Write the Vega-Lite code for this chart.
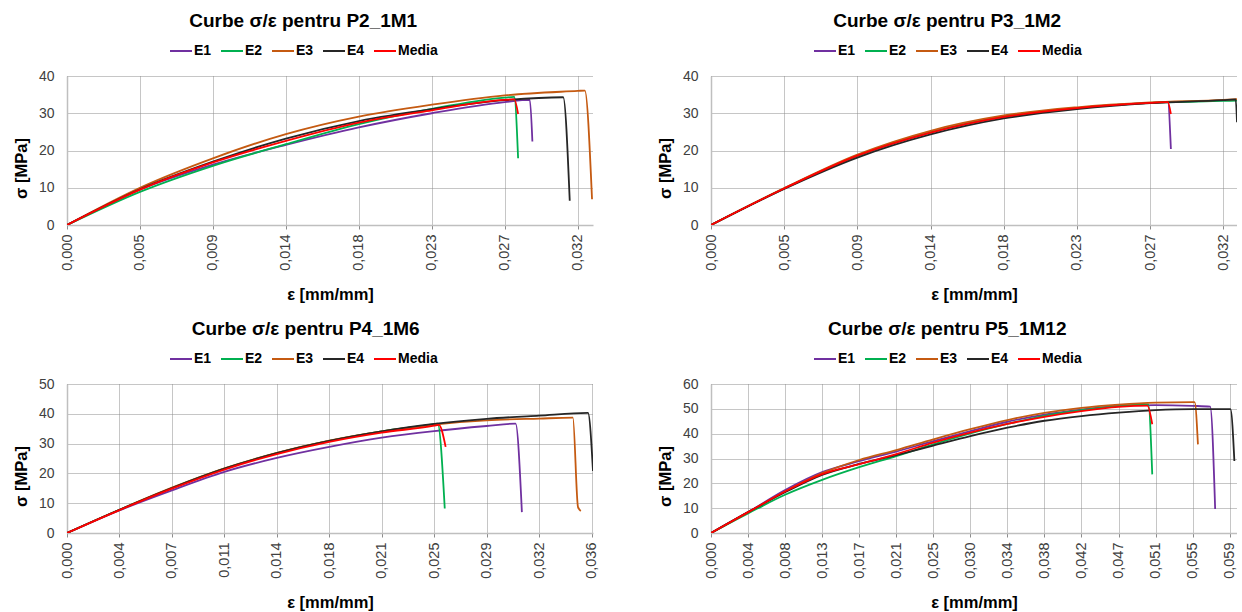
{
  "$schema": "https://vega.github.io/schema/vega-lite/v6.json",
  "padding": {"left": 13, "top": 12, "right": 0, "bottom": 0},
  "background": "white",
  "data": {"values": [
    {"p":"A","s":"E1","e":0,"v":0},{"p":"A","s":"E1","e":0.00455,"v":9.5},{"p":"A","s":"E1","e":0.0091,"v":16.2},{"p":"A","s":"E1","e":0.01365,"v":21.5},{"p":"A","s":"E1","e":0.0182,"v":26.2},{"p":"A","s":"E1","e":0.02275,"v":30.0},{"p":"A","s":"E1","e":0.0273,"v":33.0},{"p":"A","s":"E1","e":0.02886,"v":33.6},{"p":"A","s":"E1","e":0.02902,"v":22.4},
    {"p":"A","s":"E2","e":0,"v":0},{"p":"A","s":"E2","e":0.00455,"v":8.9},{"p":"A","s":"E2","e":0.0091,"v":15.9},{"p":"A","s":"E2","e":0.01365,"v":21.7},{"p":"A","s":"E2","e":0.0182,"v":27.1},{"p":"A","s":"E2","e":0.02275,"v":31.2},{"p":"A","s":"E2","e":0.0273,"v":34.2},{"p":"A","s":"E2","e":0.02789,"v":34.4},{"p":"A","s":"E2","e":0.02813,"v":17.9},
    {"p":"A","s":"E3","e":0,"v":0},{"p":"A","s":"E3","e":0.00455,"v":10.0},{"p":"A","s":"E3","e":0.0091,"v":17.9},{"p":"A","s":"E3","e":0.01365,"v":24.4},{"p":"A","s":"E3","e":0.0182,"v":29.1},{"p":"A","s":"E3","e":0.02275,"v":32.3},{"p":"A","s":"E3","e":0.0273,"v":34.8},{"p":"A","s":"E3","e":0.03185,"v":36.0},{"p":"A","s":"E3","e":0.03229,"v":36.1},{"p":"A","s":"E3","e":0.03274,"v":6.9},
    {"p":"A","s":"E4","e":0,"v":0},{"p":"A","s":"E4","e":0.00455,"v":9.6},{"p":"A","s":"E4","e":0.0091,"v":17.0},{"p":"A","s":"E4","e":0.01365,"v":23.2},{"p":"A","s":"E4","e":0.0182,"v":27.9},{"p":"A","s":"E4","e":0.02275,"v":31.1},{"p":"A","s":"E4","e":0.0273,"v":33.5},{"p":"A","s":"E4","e":0.03094,"v":34.3},{"p":"A","s":"E4","e":0.03135,"v":6.5},
    {"p":"A","s":"Media","e":0,"v":0},{"p":"A","s":"Media","e":0.00455,"v":9.5},{"p":"A","s":"Media","e":0.0091,"v":16.8},{"p":"A","s":"Media","e":0.01365,"v":22.6},{"p":"A","s":"Media","e":0.0182,"v":27.5},{"p":"A","s":"Media","e":0.02275,"v":30.8},{"p":"A","s":"Media","e":0.0273,"v":33.6},{"p":"A","s":"Media","e":0.02789,"v":33.7},{"p":"A","s":"Media","e":0.02813,"v":29.8},

    {"p":"B","s":"E1","e":0,"v":0},{"p":"B","s":"E1","e":0.00455,"v":9.8},{"p":"B","s":"E1","e":0.0091,"v":18.6},{"p":"B","s":"E1","e":0.01365,"v":24.8},{"p":"B","s":"E1","e":0.0182,"v":29.0},{"p":"B","s":"E1","e":0.02275,"v":31.4},{"p":"B","s":"E1","e":0.0273,"v":32.8},{"p":"B","s":"E1","e":0.0284,"v":33.0},{"p":"B","s":"E1","e":0.02859,"v":20.4},
    {"p":"B","s":"E2","e":0,"v":0},{"p":"B","s":"E2","e":0.00455,"v":9.8},{"p":"B","s":"E2","e":0.0091,"v":18.5},{"p":"B","s":"E2","e":0.01365,"v":24.9},{"p":"B","s":"E2","e":0.0182,"v":29.1},{"p":"B","s":"E2","e":0.02275,"v":31.4},{"p":"B","s":"E2","e":0.0273,"v":32.8},{"p":"B","s":"E2","e":0.03185,"v":33.3},{"p":"B","s":"E2","e":0.0327,"v":33.4},
    {"p":"B","s":"E3","e":0,"v":0},{"p":"B","s":"E3","e":0.00455,"v":9.9},{"p":"B","s":"E3","e":0.0091,"v":18.9},{"p":"B","s":"E3","e":0.01365,"v":25.3},{"p":"B","s":"E3","e":0.0182,"v":29.4},{"p":"B","s":"E3","e":0.02275,"v":31.6},{"p":"B","s":"E3","e":0.0273,"v":32.9},{"p":"B","s":"E3","e":0.03185,"v":33.6},{"p":"B","s":"E3","e":0.0327,"v":33.8},
    {"p":"B","s":"E4","e":0,"v":0},{"p":"B","s":"E4","e":0.00455,"v":9.7},{"p":"B","s":"E4","e":0.0091,"v":18.1},{"p":"B","s":"E4","e":0.01365,"v":24.3},{"p":"B","s":"E4","e":0.0182,"v":28.6},{"p":"B","s":"E4","e":0.02275,"v":31.1},{"p":"B","s":"E4","e":0.0273,"v":32.7},{"p":"B","s":"E4","e":0.03185,"v":33.5},{"p":"B","s":"E4","e":0.03262,"v":33.7},{"p":"B","s":"E4","e":0.0327,"v":27.6},
    {"p":"B","s":"Media","e":0,"v":0},{"p":"B","s":"Media","e":0.00455,"v":9.8},{"p":"B","s":"Media","e":0.0091,"v":18.6},{"p":"B","s":"Media","e":0.01365,"v":24.8},{"p":"B","s":"Media","e":0.0182,"v":29.0},{"p":"B","s":"Media","e":0.02275,"v":31.4},{"p":"B","s":"Media","e":0.0273,"v":32.8},{"p":"B","s":"Media","e":0.0284,"v":33.0},{"p":"B","s":"Media","e":0.02859,"v":29.8},

    {"p":"C","s":"E1","e":0,"v":0},{"p":"C","s":"E1","e":0.00357,"v":7.6},{"p":"C","s":"E1","e":0.00714,"v":14.3},{"p":"C","s":"E1","e":0.01071,"v":20.5},{"p":"C","s":"E1","e":0.01428,"v":25.2},{"p":"C","s":"E1","e":0.01785,"v":28.9},{"p":"C","s":"E1","e":0.02142,"v":32.0},{"p":"C","s":"E1","e":0.02499,"v":34.2},{"p":"C","s":"E1","e":0.02856,"v":35.9},{"p":"C","s":"E1","e":0.03053,"v":36.7},{"p":"C","s":"E1","e":0.03096,"v":7.0},
    {"p":"C","s":"E2","e":0,"v":0},{"p":"C","s":"E2","e":0.00357,"v":7.8},{"p":"C","s":"E2","e":0.00714,"v":15.1},{"p":"C","s":"E2","e":0.01071,"v":21.6},{"p":"C","s":"E2","e":0.01428,"v":26.8},{"p":"C","s":"E2","e":0.01785,"v":30.9},{"p":"C","s":"E2","e":0.02142,"v":34.1},{"p":"C","s":"E2","e":0.02499,"v":36.5},{"p":"C","s":"E2","e":0.02523,"v":36.7},{"p":"C","s":"E2","e":0.02571,"v":8.2},
    {"p":"C","s":"E3","e":0,"v":0},{"p":"C","s":"E3","e":0.00357,"v":7.8},{"p":"C","s":"E3","e":0.00714,"v":15.2},{"p":"C","s":"E3","e":0.01071,"v":21.7},{"p":"C","s":"E3","e":0.01428,"v":26.9},{"p":"C","s":"E3","e":0.01785,"v":31.0},{"p":"C","s":"E3","e":0.02142,"v":34.1},{"p":"C","s":"E3","e":0.02499,"v":36.4},{"p":"C","s":"E3","e":0.02856,"v":37.8},{"p":"C","s":"E3","e":0.03213,"v":38.4},{"p":"C","s":"E3","e":0.03443,"v":38.7},{"p":"C","s":"E3","e":0.03478,"v":8.7},{"p":"C","s":"E3","e":0.03497,"v":7.4},
    {"p":"C","s":"E4","e":0,"v":0},{"p":"C","s":"E4","e":0.00357,"v":7.8},{"p":"C","s":"E4","e":0.00714,"v":15.1},{"p":"C","s":"E4","e":0.01071,"v":21.6},{"p":"C","s":"E4","e":0.01428,"v":26.8},{"p":"C","s":"E4","e":0.01785,"v":30.9},{"p":"C","s":"E4","e":0.02142,"v":34.1},{"p":"C","s":"E4","e":0.02499,"v":36.6},{"p":"C","s":"E4","e":0.02856,"v":38.3},{"p":"C","s":"E4","e":0.03213,"v":39.4},{"p":"C","s":"E4","e":0.03546,"v":40.3},{"p":"C","s":"E4","e":0.0358,"v":20.8},
    {"p":"C","s":"Media","e":0,"v":0},{"p":"C","s":"Media","e":0.00357,"v":7.7},{"p":"C","s":"Media","e":0.00714,"v":14.9},{"p":"C","s":"Media","e":0.01071,"v":21.3},{"p":"C","s":"Media","e":0.01428,"v":26.5},{"p":"C","s":"Media","e":0.01785,"v":30.6},{"p":"C","s":"Media","e":0.02142,"v":33.7},{"p":"C","s":"Media","e":0.02499,"v":36.0},{"p":"C","s":"Media","e":0.02531,"v":36.3},{"p":"C","s":"Media","e":0.02577,"v":28.9},

    {"p":"D","s":"E1","e":0,"v":0},{"p":"D","s":"E1","e":0.00424,"v":8.4},{"p":"D","s":"E1","e":0.00848,"v":17.3},{"p":"D","s":"E1","e":0.01272,"v":24.5},{"p":"D","s":"E1","e":0.01696,"v":28.9},{"p":"D","s":"E1","e":0.0212,"v":32.8},{"p":"D","s":"E1","e":0.02544,"v":37.0},{"p":"D","s":"E1","e":0.02968,"v":41.0},{"p":"D","s":"E1","e":0.03392,"v":44.8},{"p":"D","s":"E1","e":0.03816,"v":47.7},{"p":"D","s":"E1","e":0.0424,"v":49.7},{"p":"D","s":"E1","e":0.04664,"v":51.2},{"p":"D","s":"E1","e":0.05088,"v":51.5},{"p":"D","s":"E1","e":0.05512,"v":51.2},{"p":"D","s":"E1","e":0.05713,"v":50.9},{"p":"D","s":"E1","e":0.0577,"v":9.7},
    {"p":"D","s":"E2","e":0,"v":0},{"p":"D","s":"E2","e":0.00424,"v":7.9},{"p":"D","s":"E2","e":0.00848,"v":15.4},{"p":"D","s":"E2","e":0.01272,"v":21.4},{"p":"D","s":"E2","e":0.01696,"v":26.5},{"p":"D","s":"E2","e":0.0212,"v":31.0},{"p":"D","s":"E2","e":0.02544,"v":35.7},{"p":"D","s":"E2","e":0.02968,"v":40.1},{"p":"D","s":"E2","e":0.03392,"v":43.9},{"p":"D","s":"E2","e":0.03816,"v":47.2},{"p":"D","s":"E2","e":0.0424,"v":49.5},{"p":"D","s":"E2","e":0.04664,"v":51.1},{"p":"D","s":"E2","e":0.05005,"v":51.8},{"p":"D","s":"E2","e":0.0505,"v":23.6},
    {"p":"D","s":"E3","e":0,"v":0},{"p":"D","s":"E3","e":0.00424,"v":8.3},{"p":"D","s":"E3","e":0.00848,"v":16.7},{"p":"D","s":"E3","e":0.01272,"v":24.1},{"p":"D","s":"E3","e":0.01696,"v":29.4},{"p":"D","s":"E3","e":0.0212,"v":33.4},{"p":"D","s":"E3","e":0.02544,"v":37.7},{"p":"D","s":"E3","e":0.02968,"v":41.8},{"p":"D","s":"E3","e":0.03392,"v":45.5},{"p":"D","s":"E3","e":0.03816,"v":48.4},{"p":"D","s":"E3","e":0.0424,"v":50.4},{"p":"D","s":"E3","e":0.04664,"v":51.7},{"p":"D","s":"E3","e":0.05088,"v":52.5},{"p":"D","s":"E3","e":0.05512,"v":52.7},{"p":"D","s":"E3","e":0.05535,"v":52.7},{"p":"D","s":"E3","e":0.05573,"v":35.7},
    {"p":"D","s":"E4","e":0,"v":0},{"p":"D","s":"E4","e":0.00424,"v":8.4},{"p":"D","s":"E4","e":0.00848,"v":16.4},{"p":"D","s":"E4","e":0.01272,"v":23.4},{"p":"D","s":"E4","e":0.01696,"v":27.8},{"p":"D","s":"E4","e":0.0212,"v":31.4},{"p":"D","s":"E4","e":0.02544,"v":35.2},{"p":"D","s":"E4","e":0.02968,"v":39.0},{"p":"D","s":"E4","e":0.03392,"v":42.4},{"p":"D","s":"E4","e":0.03816,"v":45.2},{"p":"D","s":"E4","e":0.0424,"v":47.1},{"p":"D","s":"E4","e":0.04664,"v":48.5},{"p":"D","s":"E4","e":0.05088,"v":49.5},{"p":"D","s":"E4","e":0.05512,"v":49.9},{"p":"D","s":"E4","e":0.05945,"v":49.9},{"p":"D","s":"E4","e":0.0599,"v":29.0},
    {"p":"D","s":"Media","e":0,"v":0},{"p":"D","s":"Media","e":0.00424,"v":8.4},{"p":"D","s":"Media","e":0.00848,"v":16.7},{"p":"D","s":"Media","e":0.01272,"v":23.7},{"p":"D","s":"Media","e":0.01696,"v":27.7},{"p":"D","s":"Media","e":0.0212,"v":31.8},{"p":"D","s":"Media","e":0.02544,"v":36.4},{"p":"D","s":"Media","e":0.02968,"v":40.4},{"p":"D","s":"Media","e":0.03392,"v":43.9},{"p":"D","s":"Media","e":0.03816,"v":46.8},{"p":"D","s":"Media","e":0.0424,"v":49.1},{"p":"D","s":"Media","e":0.04664,"v":50.8},{"p":"D","s":"Media","e":0.04994,"v":51.3},{"p":"D","s":"Media","e":0.0505,"v":43.8}
  ]},
  "columns": 2,
  "spacing": {"row": 17, "column": 58},
  "resolve": {"scale": {"x": "independent", "y": "independent", "color": "independent"}, "legend": {"color": "independent"}, "axis": {"x": "independent", "y": "independent"}},
  "concat": [
    {
      "title": "Curbe σ/ε pentru P2_1M1",
      "width": 526, "height": 149,
      "transform": [{"filter": "datum.p == 'A'"}],
      "mark": {"type": "line", "interpolate": "monotone", "strokeWidth": 1.8, "clip": true},
      "encoding": {
        "x": {"field": "e", "type": "quantitative", "scale": {"domain": [0, 0.0328], "nice": false}, "axis": {"title": "ε [mm/mm]", "values": [0, 0.00455, 0.0091, 0.01365, 0.0182, 0.02275, 0.0273, 0.03185], "labelExpr": "replace(format(datum.value, '.3f'), '.', ',')"}},
        "y": {"field": "v", "type": "quantitative", "scale": {"domain": [0, 40], "nice": false}, "axis": {"title": "σ [MPa]", "values": [0, 10, 20, 30, 40]}},
        "color": {"field": "s", "type": "nominal", "scale": {"domain": ["E1", "E2", "E3", "E4", "Media"], "range": ["#7030A0", "#00B050", "#C55A11", "#262626", "#FF0000"]}, "legend": {"title": null}}
      }
    },
    {
      "title": "Curbe σ/ε pentru P3_1M2",
      "width": 526, "height": 149,
      "transform": [{"filter": "datum.p == 'B'"}],
      "mark": {"type": "line", "interpolate": "monotone", "strokeWidth": 1.8, "clip": true},
      "encoding": {
        "x": {"field": "e", "type": "quantitative", "scale": {"domain": [0, 0.0327], "nice": false}, "axis": {"title": "ε [mm/mm]", "values": [0, 0.00455, 0.0091, 0.01365, 0.0182, 0.02275, 0.0273, 0.03185], "labelExpr": "replace(format(datum.value, '.3f'), '.', ',')"}},
        "y": {"field": "v", "type": "quantitative", "scale": {"domain": [0, 40], "nice": false}, "axis": {"title": "σ [MPa]", "values": [0, 10, 20, 30, 40]}},
        "color": {"field": "s", "type": "nominal", "scale": {"domain": ["E1", "E2", "E3", "E4", "Media"], "range": ["#7030A0", "#00B050", "#C55A11", "#262626", "#FF0000"]}, "legend": {"title": null}}
      }
    },
    {
      "title": "Curbe σ/ε pentru P4_1M6",
      "width": 526, "height": 149,
      "transform": [{"filter": "datum.p == 'C'"}],
      "mark": {"type": "line", "interpolate": "monotone", "strokeWidth": 1.8, "clip": true},
      "encoding": {
        "x": {"field": "e", "type": "quantitative", "scale": {"domain": [0, 0.0358], "nice": false}, "axis": {"title": "ε [mm/mm]", "values": [0, 0.00357, 0.00714, 0.01071, 0.01428, 0.01785, 0.02142, 0.02499, 0.02856, 0.03213, 0.0357], "labelExpr": "replace(format(datum.value, '.3f'), '.', ',')"}},
        "y": {"field": "v", "type": "quantitative", "scale": {"domain": [0, 50], "nice": false}, "axis": {"title": "σ [MPa]", "values": [0, 10, 20, 30, 40, 50]}},
        "color": {"field": "s", "type": "nominal", "scale": {"domain": ["E1", "E2", "E3", "E4", "Media"], "range": ["#7030A0", "#00B050", "#C55A11", "#262626", "#FF0000"]}, "legend": {"title": null}}
      }
    },
    {
      "title": "Curbe σ/ε pentru P5_1M12",
      "width": 526, "height": 149,
      "transform": [{"filter": "datum.p == 'D'"}],
      "mark": {"type": "line", "interpolate": "monotone", "strokeWidth": 1.8, "clip": true},
      "encoding": {
        "x": {"field": "e", "type": "quantitative", "scale": {"domain": [0, 0.0602], "nice": false}, "axis": {"title": "ε [mm/mm]", "values": [0, 0.00424, 0.00848, 0.01272, 0.01696, 0.0212, 0.02544, 0.02968, 0.03392, 0.03816, 0.0424, 0.04664, 0.05088, 0.05512, 0.05936], "labelExpr": "replace(format(datum.value, '.3f'), '.', ',')"}},
        "y": {"field": "v", "type": "quantitative", "scale": {"domain": [0, 60], "nice": false}, "axis": {"title": "σ [MPa]", "values": [0, 10, 20, 30, 40, 50, 60]}},
        "color": {"field": "s", "type": "nominal", "scale": {"domain": ["E1", "E2", "E3", "E4", "Media"], "range": ["#7030A0", "#00B050", "#C55A11", "#262626", "#FF0000"]}, "legend": {"title": null}}
      }
    }
  ],
  "config": {
    "font": "Liberation Sans",
    "view": {"stroke": null},
    "title": {"fontSize": 19, "fontWeight": "bold", "color": "#000000", "anchor": "middle", "frame": "bounds", "offset": 8},
    "axis": {"labelFontSize": 14, "labelColor": "#404040", "titleFontSize": 16.5, "titleFontWeight": "bold", "titleColor": "#000000", "domainColor": "#BFBFBF", "domainWidth": 1.5, "gridColor": "#8C8C8C", "gridDash": [1, 1], "gridWidth": 1, "tickColor": "#8C8C8C", "labelOverlap": false},
    "axisX": {"labelAngle": -90, "labelFontSize": 14.5, "tickSize": 4, "labelPadding": 5, "titlePadding": 16, "labelFlush": false},
    "axisY": {"ticks": false, "labelPadding": 13, "titlePadding": 9, "titleY": 92},
    "legend": {"orient": "none", "legendX": 102, "legendY": -37, "direction": "horizontal", "symbolType": "stroke", "symbolSize": 484, "symbolStrokeWidth": 2, "labelFontSize": 14, "labelFontWeight": "bold", "labelColor": "#000000", "labelOffset": 1, "columnPadding": 5}
  }
}
